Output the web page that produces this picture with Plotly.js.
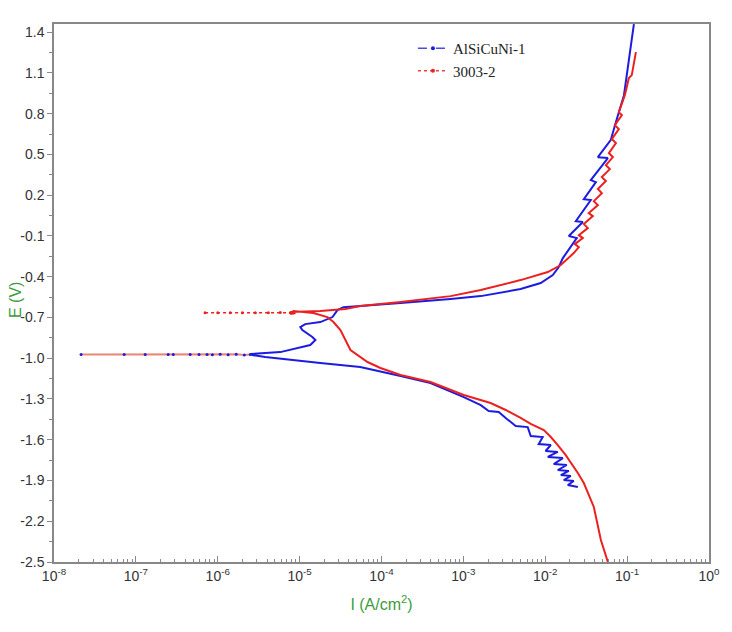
<!DOCTYPE html>
<html>
<head>
<meta charset="utf-8">
<script src="https://cdn.plot.ly/plotly-3.0.1.min.js"></script>
<style>
  body { margin: 0; background: #fff; }
  #chart { width: 732px; height: 632px; }
</style>
</head>
<body>
<div id="chart"></div>
<script>
// AlSiCuNi-1: cathodic branch (from its end, up to Ecorr) then anodic branch
const blueI = [
	0.0250, 0.01884, 0.0223, 0.01683, 0.0205, 0.0155, 0.0194, 0.01422, 0.01832, 0.0127,
	0.0164, 0.01074, 0.01422, 0.0101, 0.0117, 0.00832, 0.00931, 0.00665, 0.00611, 0.00436,
	0.00329, 0.0027, 0.00204, 0.00163, 0.00101, 3.97e-4, 1.71e-4, 5.5e-5, 1.79e-5, 7.7e-6,
	3.8e-6, 2.64e-6,
	2.5e-6, 5.8e-6, 1.35e-5, 1.56e-5, 1.43e-5, 1.08e-5, 1.02e-5, 1.17e-5, 1.79e-5, 2.52e-5,
	2.9e-5, 3.43e-5, 5.5e-5, 1.71e-4, 6.98e-4, 1.63e-3, 5.0e-3, 8.8e-3, 0.01236, 0.01462,
	0.0164, 0.02427, 0.0194, 0.02877, 0.0236, 0.036, 0.02958, 0.0415, 0.036, 0.0582,
	0.0439, 0.063, 0.073, 0.084, 0.0915, 0.105, 0.121
];
const blueE = [
	-1.948, -1.933, -1.904, -1.897, -1.867, -1.860, -1.830, -1.823, -1.786, -1.779,
	-1.735, -1.727, -1.690, -1.683, -1.639, -1.632, -1.580, -1.573, -1.507, -1.499,
	-1.440, -1.396, -1.389, -1.345, -1.286, -1.183, -1.131, -1.065, -1.036, -1.014,
	-0.991, -0.977,
	-0.969, -0.955, -0.903, -0.866, -0.844, -0.793, -0.771, -0.749, -0.734, -0.697,
	-0.646, -0.624, -0.616, -0.594, -0.565, -0.543, -0.491, -0.447, -0.388, -0.329,
	-0.263, -0.116, -0.101, 0.002, 0.009, 0.164, 0.171, 0.296, 0.311, 0.473,
	0.480, 0.605, 0.738, 0.863, 0.936, 1.194, 1.459
];
// AlSiCuNi-1: flat part at the corrosion potential
const blueRestI = [2.14e-8, 7.2e-8, 1.30e-7, 2.48e-7, 2.86e-7, 4.6e-7, 5.9e-7, 7.4e-7, 8.6e-7, 1.07e-6, 1.34e-6, 1.68e-6, 2.11e-6, 2.5e-6];
const blueRestE = [-0.972, -0.972, -0.972, -0.972, -0.972, -0.972, -0.973, -0.972, -0.974, -0.971, -0.975, -0.970, -0.976, -0.972];

// 3003-2: cathodic branch (from the bottom, up to Ecorr) then anodic branch
const redI = [
	0.0582, 0.0478, 0.0392, 0.0340, 0.02958, 0.0250, 0.0205, 0.0178, 0.01422, 0.0117,
	0.0096, 0.00665, 0.0050, 0.00329, 0.00215, 0.00101, 3.97e-4, 1.71e-4, 9.7e-5, 6.75e-5,
	4.18e-5, 3.15e-5, 2.59e-5, 2.18e-5, 1.47e-5, 1.02e-5, 8.4e-6, 7.7e-6, 8.9e-6,
	7.7e-6, 1.79e-5, 3.63e-5, 5.5e-5, 1.71e-4, 6.98e-4, 1.63e-3, 5.0e-3, 0.01074, 0.0155,
	0.0223, 0.0257, 0.02296, 0.02877, 0.0257, 0.0331, 0.02958, 0.0381, 0.0340, 0.0439,
	0.0392, 0.0491, 0.0439, 0.0550, 0.0491, 0.0615, 0.0550, 0.0670, 0.0598, 0.0730,
	0.0650, 0.0792, 0.0708, 0.0863, 0.0792, 0.0938, 0.105, 0.114, 0.128
];
const redE = [
	-2.500, -2.338, -2.095, -2.007, -1.919, -1.845, -1.771, -1.713, -1.639, -1.580,
	-1.529, -1.484, -1.440, -1.381, -1.330, -1.271, -1.175, -1.124, -1.072, -1.028,
	-0.940, -0.793, -0.734, -0.697, -0.668, -0.660, -0.653, -0.675, -0.668,
	-0.660, -0.653, -0.638, -0.616, -0.587, -0.543, -0.498, -0.425, -0.366, -0.314,
	-0.226, -0.182, -0.160, -0.116, -0.094, -0.042, -0.013, 0.046, 0.068, 0.127,
	0.156, 0.215, 0.245, 0.304, 0.333, 0.392, 0.421, 0.480, 0.510, 0.583,
	0.613, 0.686, 0.716, 0.789, 0.811, 0.936, 1.062, 1.084, 1.253
];
// 3003-2: flat part at the corrosion potential
const redRestI = [7.0e-7, 1.0e-6, 1.42e-6, 2.0e-6, 2.88e-6, 4.15e-6, 5.8e-6, 7.7e-6, 8.4e-6];
const redRestE = [-0.665, -0.665, -0.665, -0.665, -0.666, -0.665, -0.664, -0.666, -0.665];

const seriesNames = ['AlSiCuNi-1', '3003-2'];

const yTickVals = [1.4, 1.1, 0.8, 0.5, 0.2, -0.1, -0.4, -0.7, -1.0, -1.3, -1.6, -1.9, -2.2, -2.5];
const yTickText = ['1.4', '1.1', '0.8', '0.5', '0.2', '-0.1', '-0.4', '-0.7', '-1.0', '-1.3', '-1.6', '-1.9', '-2.2', '-2.5'];
const xTickVals = [1e-8, 1e-7, 1e-6, 1e-5, 1e-4, 1e-3, 1e-2, 1e-1, 1];
const xTickText = ['10<sup>-8</sup>', '10<sup>-7</sup>', '10<sup>-6</sup>', '10<sup>-5</sup>', '10<sup>-4</sup>',
	'10<sup>-3</sup>', '10<sup>-2</sup>', '10<sup>-1</sup>', '10<sup>0</sup>'];

// minor ticks: 2..9 in every decade, and half steps on E
const xMinor = [];
for (let d = -8; d < 0; d++) {
	for (let k = 2; k <= 9; k++) xMinor.push(k * Math.pow(10, d));
}
const yMinor = yTickVals.slice(0, -1).map(v => v - 0.15);

const BLUE = '#1c1ce0';
const RED = '#ec2020';
const tickFont = { family: 'Liberation Sans, Arial, sans-serif', size: 14, color: '#333' };
const titleFont = { family: 'Liberation Sans, Arial, sans-serif', size: 16, color: '#3c9c3c' };

window.onload = function () {
	const traces = [
		{
			x: blueI, y: blueE, type: 'scatter', mode: 'lines',
			line: { color: BLUE, width: 2 }, showlegend: false
		},
		{
			x: blueRestI, y: blueRestE, type: 'scatter', mode: 'lines+markers',
			line: { color: '#e98878', width: 2 }, marker: { color: BLUE, size: 3 }, showlegend: false
		},
		{
			x: redI, y: redE, type: 'scatter', mode: 'lines',
			line: { color: RED, width: 2 }, showlegend: false
		},
		{
			x: redRestI, y: redRestE, type: 'scatter', mode: 'lines+markers',
			line: { color: RED, width: 1.5, dash: 'dot' }, marker: { color: RED, size: 3 }, showlegend: false
		},
		// legend entries only
		{
			x: [null], y: [null], type: 'scatter', mode: 'lines+markers', name: seriesNames[0],
			line: { color: '#4a4ae0', width: 1.5, dash: 'dash' }, marker: { color: BLUE, size: 4 }
		},
		{
			x: [null], y: [null], type: 'scatter', mode: 'lines+markers', name: seriesNames[1],
			line: { color: '#ec4040', width: 1.5, dash: 'dot' }, marker: { color: RED, size: 4 }
		}
	];

	const layout = {
		width: 732,
		height: 632,
		margin: { l: 54, r: 23, t: 24, b: 70 },
		paper_bgcolor: '#fff',
		plot_bgcolor: '#fff',
		showlegend: true,
		legend: {
			x: 0.548, y: 0.985, xanchor: 'left', yanchor: 'top',
			bgcolor: 'rgba(0,0,0,0)',
			font: { family: 'Liberation Serif, Times New Roman, serif', size: 15, color: '#222' },
			tracegroupgap: 0
		},
		xaxis: {
			type: 'log',
			range: [-8, 0],
			tickmode: 'array',
			tickvals: xTickVals,
			ticktext: xTickText,
			ticks: 'inside',
			ticklen: 6,
			tickcolor: '#888',
			minor: { tickmode: 'array', tickvals: xMinor, ticks: 'inside', ticklen: 3, tickcolor: '#888' },
			showline: true,
			linecolor: '#888',
			linewidth: 1.5,
			mirror: true,
			showgrid: false,
			zeroline: false,
			tickfont: tickFont,
			title: { text: 'I (A/cm<sup>2</sup>)', font: titleFont, standoff: 16 }
		},
		yaxis: {
			range: [-2.5, 1.46],
			tickmode: 'array',
			tickvals: yTickVals,
			ticktext: yTickText,
			ticks: 'outside',
			ticklen: 5,
			tickcolor: '#888',
			minor: { tickmode: 'array', tickvals: yMinor, ticks: 'outside', ticklen: 3, tickcolor: '#888' },
			showline: true,
			linecolor: '#888',
			linewidth: 1.5,
			mirror: true,
			showgrid: false,
			zeroline: false,
			tickfont: tickFont
		},
		// E axis title, placed as in the original figure
		annotations: [{
			text: 'E (V)', xref: 'paper', yref: 'paper', x: -0.058, y: 0.487,
			xanchor: 'center', yanchor: 'middle', textangle: -90, showarrow: false,
			font: titleFont
		}]
	};

	Plotly.newPlot('chart', traces, layout, { displayModeBar: false });
};
</script>
</body>
</html>
